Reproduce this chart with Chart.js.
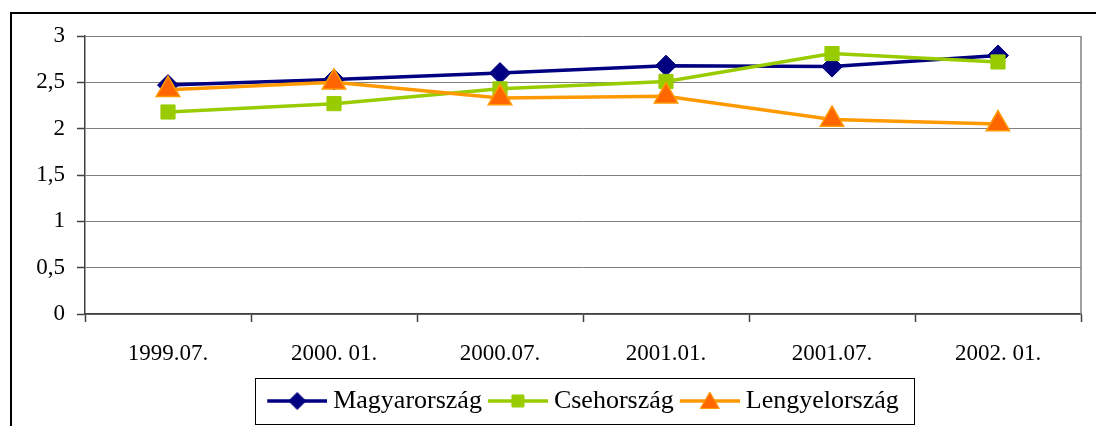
<!DOCTYPE html>
<html>
<head>
<meta charset="utf-8">
<script src="https://cdn.jsdelivr.net/npm/chart.js@4/dist/chart.umd.min.js"></script>
<style>
  html, body { margin: 0; padding: 0; background: #fff; overflow: hidden; }
  #wrap { position: relative; width: 1096px; height: 426px; overflow: hidden; }
  #frame { position: absolute; left: 10px; top: 12px; width: 3000px; height: 3000px; border: 2px solid #000; }
  #c { position: absolute; left: 0; top: 0; }
</style>
</head>
<body>
<div id="wrap">
  <div id="frame"></div>
  <canvas id="c" width="1096" height="426"></canvas>
</div>
<script>
const labels = ['1999.07.', '2000. 01.', '2000.07.', '2001.01.', '2001.07.', '2002. 01.'];
const magyar = [2.47, 2.53, 2.60, 2.68, 2.67, 2.79];
const cseh = [2.18, 2.27, 2.43, 2.51, 2.81, 2.72];
const lengyel = [2.42, 2.50, 2.33, 2.35, 2.10, 2.05];
const seriesNames = ['Magyarország', 'Csehország', 'Lengyelország'];
const yMin = 0, yMax = 3, yStep = 0.5;

const font = 'Liberation Serif, Times New Roman, serif';

// small canvas with a line + marker, used as legend symbol
function legendIcon (lineColor, fill, border, style, r) {
  const cv = document.createElement('canvas');
  cv.width = 67; cv.height = 30;
  const ctx = cv.getContext('2d');
  ctx.strokeStyle = lineColor;
  ctx.lineWidth = 3.5;
  ctx.beginPath(); ctx.moveTo(7, 15); ctx.lineTo(67, 15); ctx.stroke();
  ctx.fillStyle = fill;
  ctx.strokeStyle = border;
  ctx.lineWidth = 1;
  Chart.helpers.drawPoint(ctx, {pointStyle: style, radius: r, rotation: 0, borderWidth: 1}, 37, style === 'triangle' ? 17 : 15);
  return cv;
}

const icons = [
  legendIcon('#000080', '#000080', '#000080', 'rectRot', 8.5),
  legendIcon('#99CC00', '#99CC00', '#99CC00', 'rect', 8.5),
  legendIcon('#FF9900', '#FF6600', '#FF9900', 'triangle', 11)
];

const framePlugin = {
  id: 'framePlugin',
  afterLayout (chart) {
    // center legend under the plot area
    const a = chart.chartArea;
    chart.legend.left = a.left;
    chart.legend.right = a.right;
  },
  beforeDatasetsDraw (chart) {
    const {ctx, chartArea: a} = chart;
    ctx.save();
    ctx.strokeStyle = '#808080';
    ctx.lineWidth = 1.5;
    ctx.beginPath(); ctx.moveTo(a.right, a.top); ctx.lineTo(a.right, a.bottom); ctx.stroke();
    ctx.restore();
  },
  afterDraw (chart) {
    const hb = chart.legend.legendHitBoxes;
    if (!hb || !hb.length) return;
    const last = hb[hb.length - 1];
    const ctx = chart.ctx;
    ctx.save();
    ctx.strokeStyle = '#000';
    ctx.lineWidth = 1;
    const l = Math.round(hb[0].left - 12) + 0.5;
    const r = Math.round(last.left + last.width + 15) + 0.5;
    const t = Math.round(hb[0].top - 10) + 0.5;
    const b = Math.round(hb[0].top + hb[0].height + 10) + 0.5;
    ctx.strokeRect(l, t, r - l, b - t);
    ctx.restore();
  }
};

new Chart(document.getElementById('c'), {
  type: 'line',
  data: {
    labels: labels,
    datasets: [
      { label: seriesNames[0], data: magyar, borderColor: '#000080', backgroundColor: '#000080',
        borderWidth: 3.5, pointStyle: 'rectRot', pointRadius: 10.5, pointBorderWidth: 1, order: 2 },
      { label: seriesNames[1], data: cseh, borderColor: '#99CC00', backgroundColor: '#99CC00',
        borderWidth: 3.5, pointStyle: 'rect', pointRadius: 10, pointBorderWidth: 1, order: 1 },
      { label: seriesNames[2], data: lengyel, borderColor: '#FF9900', backgroundColor: '#FF6600',
        pointBorderColor: '#FF9900', borderWidth: 3.5, pointStyle: 'triangle', pointRadius: 13.5,
        pointBorderWidth: 1.5, order: 0 }
    ]
  },
  options: {
    responsive: false,
    animation: false,
    events: [],
    layout: { padding: { top: 36, right: 15, left: 0, bottom: 2 } },
    scales: {
      x: {
        offset: true,
        grid: { offset: true, drawOnChartArea: false, tickLength: 8, tickColor: '#404040', tickWidth: 1.5 },
        border: { color: '#404040', width: 1.5 },
        ticks: { color: '#000', font: { family: font, size: 23 }, padding: 18, maxRotation: 0, autoSkip: false },
        afterFit (scale) { scale.height = 68; }
      },
      y: {
        min: yMin, max: yMax,
        grid: { color: '#808080', lineWidth: 1, tickLength: 8, tickColor: '#404040', tickWidth: 1.5 },
        border: { color: '#404040', width: 1.5 },
        ticks: {
          stepSize: yStep, color: '#000', font: { family: font, size: 23 }, padding: 12,
          callback: v => String(v).replace('.', ',')
        },
        afterFit (scale) { scale.width = 85; }
      }
    },
    plugins: {
      tooltip: { enabled: false },
      legend: {
        position: 'bottom',
        labels: {
          usePointStyle: true,
          pointStyleWidth: 53,
          padding: 6,
          color: '#000',
          font: { family: font, size: 26 },
          generateLabels (chart) {
            return chart.data.datasets.map((ds, i) => ({
              text: ds.label,
              pointStyle: icons[i],
              fillStyle: ds.borderColor,
              strokeStyle: ds.borderColor,
              lineWidth: 0,
              hidden: false,
              datasetIndex: i
            }));
          }
        }
      }
    }
  },
  plugins: [framePlugin]
});
</script>
</body>
</html>
